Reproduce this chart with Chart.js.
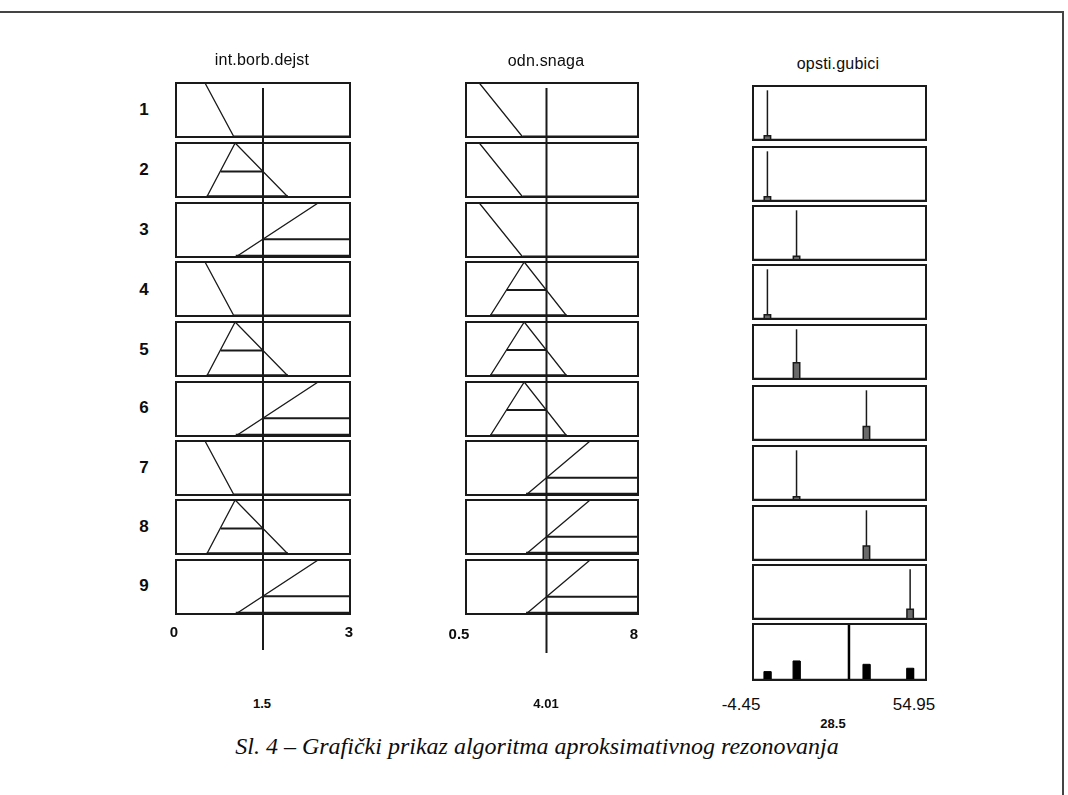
<!DOCTYPE html>
<html>
<head>
<meta charset="utf-8">
<script src="https://cdn.jsdelivr.net/npm/chart.js@4/dist/chart.umd.min.js"></script>
<style>
  html,body{margin:0;padding:0;background:#fff;}
  #wrap{position:relative;width:1068px;height:795px;overflow:hidden;background:#fff;}
  canvas{position:absolute;}
  .t{position:absolute;transform:translate(-50%,-50%);font-family:"Liberation Sans",Arial,sans-serif;color:#0d0d0d;white-space:nowrap;}
  .rule{position:absolute;background:#444;}
</style>
</head>
<body>
<div id="wrap"></div>
<script>
// ---------------- DATA ----------------
const ruleLabels = ["1","2","3","4","5","6","7","8","9"];
const varNames = ["int.borb.dejst","odn.snaga","opsti.gubici"];

// input 1: int.borb.dejst
const in1Range = [0, 3];
const in1Value = 1.5;
const in1TickLabels = ["0","3"];
const in1A_x = [0, 0.5, 1.0, 3];      const in1A_y = [1, 1, 0, 0];
const in1B_x = [0, 0.53, 1.02, 1.93, 3]; const in1B_y = [0, 0, 1, 0, 0];
const in1C_x = [0, 1.03, 2.45, 3];    const in1C_y = [0, 0, 1, 1];
const in1B_level = 0.47, in1B_levelFrom = 0.77;
const in1C_level = 0.33;
const in1RuleMF = ["A","B","C","A","B","C","A","B","C"];

// input 2: odn.snaga
const in2Range = [0.5, 8];
const in2Value = 4.01;
const in2TickLabels = ["0.5","8"];
const in2A_x = [0.5, 1.08, 2.97, 8];  const in2A_y = [1, 1, 0, 0];
const in2B_x = [0.5, 1.55, 3.04, 4.89, 8]; const in2B_y = [0, 0, 1, 0, 0];
const in2C_x = [0.5, 3.12, 5.91, 8];  const in2C_y = [0, 0, 1, 1];
const in2B_level = 0.48, in2B_levelFrom = 2.27;
const in2C_level = 0.32;
const in2RuleMF = ["A","A","A","B","B","B","C","C","C"];

// output: opsti.gubici
const outRange = [-4.45, 54.95];
const outTickLabels = ["-4.45","54.95"];
const outValue = 28.5;
const outCenters = [0.5, 0.5, 10.5, 0.5, 10.5, 34.5, 10.5, 34.5, 49.5];
const outFill    = [0.08, 0.08, 0.07, 0.08, 0.30, 0.25, 0.06, 0.26, 0.18];
const outSpikeTop = 0.92;
const outHalfWidth = 1.1;
const aggCenters = [0.5, 10.5, 34.5, 49.5];
const aggHeights = [0.15, 0.34, 0.28, 0.21];

const caption = "Sl. 4 – Grafički prikaz algoritma aproksimativnog rezonovanja";

// ---------------- LAYOUT ----------------
const col1 = {left:176, width:174};
const col2 = {left:466, width:172};
const col3 = {left:753, width:173};
const rowTopsIn  = [83,143,203,262,322,382,441,500,560];
const rowTopsOut = [86,147,206,265,325,386,446,506,565];
const aggTop = 624, aggH = 56;
const panelH = 54;
const PAD = 2;
const INK = "#1a1a1a";

const wrap = document.getElementById("wrap");

const boxPlugin = {
  id:"box",
  afterDraw(chart, args, opts){
    if(!opts || !opts.show) return;
    const {ctx, chartArea:a} = chart;
    ctx.save();
    ctx.strokeStyle = INK;
    ctx.lineWidth = 2;
    ctx.strokeRect(a.left, a.top, a.right-a.left, a.bottom-a.top);
    ctx.restore();
  }
};

function makeChart(left, top, w, h, xr, yr, datasets, box){
  const c = document.createElement("canvas");
  c.width = w + 2*PAD; c.height = h + 2*PAD;
  c.style.left = (left-PAD)+"px"; c.style.top = (top-PAD)+"px";
  c.style.width = (w+2*PAD)+"px"; c.style.height = (h+2*PAD)+"px";
  wrap.appendChild(c);
  new Chart(c, {
    type:"scatter",
    data:{datasets},
    options:{
      responsive:false, animation:false, devicePixelRatio:1,
      layout:{padding:PAD},
      plugins:{legend:{display:false}, tooltip:{enabled:false}, box:{show:box}},
      scales:{
        x:{type:"linear", min:xr[0], max:xr[1], display:false},
        y:{type:"linear", min:yr[0], max:yr[1], display:false}
      },
      elements:{point:{radius:0}, line:{tension:0}}
    },
    plugins:[boxPlugin]
  });
}

function pts(xs, ys){ return xs.map((x,i)=>({x, y:ys[i]})); }
function line(data, width, color, extra){
  return Object.assign({data, showLine:true, borderColor:color||INK, borderWidth:width, pointRadius:0, fill:false}, extra||{});
}

function inputDatasets(kind, range, value, A, B, C, bLevel, bFrom, cLevel){
  const ds = [];
  if(kind==="A"){
    ds.push(line(pts(A[0],A[1]),1.3));
    ds.push(line([{x:A[0][2],y:0},{x:range[1],y:0}],3));
  } else if(kind==="B"){
    ds.push(line(pts(B[0],B[1]),1.3));
    ds.push(line([{x:bFrom,y:bLevel},{x:value,y:bLevel}],2));
    ds.push(line([{x:B[0][1],y:0},{x:B[0][3],y:0}],3.5));
  } else {
    ds.push(line(pts(C[0],C[1]),1.3));
    ds.push(line([{x:value,y:cLevel},{x:range[1],y:cLevel}],2));
    ds.push(line([{x:C[0][1],y:0},{x:range[1],y:0}],4.5));
  }
  return ds;
}

// ---------------- INPUT COLUMNS ----------------
for(let r=0;r<9;r++){
  makeChart(col1.left, rowTopsIn[r], col1.width, panelH, in1Range, [0,1],
    inputDatasets(in1RuleMF[r], in1Range, in1Value, [in1A_x,in1A_y],[in1B_x,in1B_y],[in1C_x,in1C_y], in1B_level, in1B_levelFrom, in1C_level), true);
  makeChart(col2.left, rowTopsIn[r], col2.width, panelH, in2Range, [0,1],
    inputDatasets(in2RuleMF[r], in2Range, in2Value, [in2A_x,in2A_y],[in2B_x,in2B_y],[in2C_x,in2C_y], in2B_level, in2B_levelFrom, in2C_level), true);
}
// vertical input value lines (overlay spanning all rules)
makeChart(col1.left, 88, col1.width, 562, in1Range, [0,1],
  [line([{x:in1Value,y:0},{x:in1Value,y:1}],2)], false);
makeChart(col2.left, 88, col2.width, 565, in2Range, [0,1],
  [line([{x:in2Value,y:0},{x:in2Value,y:1}],2)], false);

// ---------------- OUTPUT COLUMN ----------------
for(let r=0;r<9;r++){
  const c = outCenters[r], f = outFill[r];
  const ds = [
    line([{x:c-outHalfWidth,y:0},{x:c-outHalfWidth,y:f},{x:c+outHalfWidth,y:f},{x:c+outHalfWidth,y:0}],1.5,INK,{fill:"origin", backgroundColor:"#6a6a6a"}),
    line([{x:c,y:0},{x:c,y:outSpikeTop}],1.5),
    line([{x:outRange[0],y:0},{x:outRange[1],y:0}],2.5)
  ];
  makeChart(col3.left, rowTopsOut[r], col3.width, panelH, outRange, [0,1], ds, true);
}
// aggregated output
{
  const ds = aggCenters.map((c,i)=>line(
    [{x:c-1.2,y:0},{x:c-1.2,y:aggHeights[i]},{x:c+1.2,y:aggHeights[i]},{x:c+1.2,y:0}],1,"#000",{fill:"origin",backgroundColor:"#000"}));
  ds.push(line([{x:outValue,y:0},{x:outValue,y:1}],2.5,"#000"));
  ds.push(line([{x:outRange[0],y:0},{x:outRange[1],y:0}],2.5));
  makeChart(col3.left, aggTop, col3.width, aggH, outRange, [0,1], ds, true);
}

// ---------------- TEXT ----------------
function text(s, x, y, size, extra){
  const d = document.createElement("div");
  d.className = "t"; d.textContent = s;
  d.style.left = x+"px"; d.style.top = y+"px"; d.style.fontSize = size+"px";
  if(extra) Object.assign(d.style, extra);
  wrap.appendChild(d);
}
const rowLabelY = [110,170,230,290,350,408,468,527,586];
ruleLabels.forEach((s,i)=>text(s,144,rowLabelY[i],17,{fontWeight:"bold"}));
text(varNames[0], 262, 60, 16, {fontWeight:"500", letterSpacing:"0.2px"});
text(varNames[1], 546, 61, 16, {fontWeight:"500", letterSpacing:"0.2px"});
text(varNames[2], 838, 64, 16, {fontWeight:"500", letterSpacing:"0.2px"});
text(in1TickLabels[0], 174, 631, 15, {fontWeight:"bold"});
text(in1TickLabels[1], 349, 631, 15, {fontWeight:"bold"});
text(in2TickLabels[0], 459, 633, 15, {fontWeight:"bold"});
text(in2TickLabels[1], 634, 633, 15, {fontWeight:"bold"});
text(outTickLabels[0], 741, 705, 17);
text(outTickLabels[1], 914, 705, 17);
text(String(in1Value), 262, 703, 13, {fontWeight:"bold"});
text(String(in2Value), 546, 703, 13, {fontWeight:"bold"});
text(String(outValue), 833, 723, 13, {fontWeight:"bold"});
text(caption, 537, 746, 24, {fontFamily:'"Liberation Serif","Times New Roman",serif', fontStyle:"italic"});

// page frame
function rule(l,t,w,h){ const d=document.createElement("div"); d.className="rule"; Object.assign(d.style,{left:l+"px",top:t+"px",width:w+"px",height:h+"px"}); wrap.appendChild(d); }
rule(0,11,1064,2);
rule(1062,11,2,784);
</script>
</body>
</html>
